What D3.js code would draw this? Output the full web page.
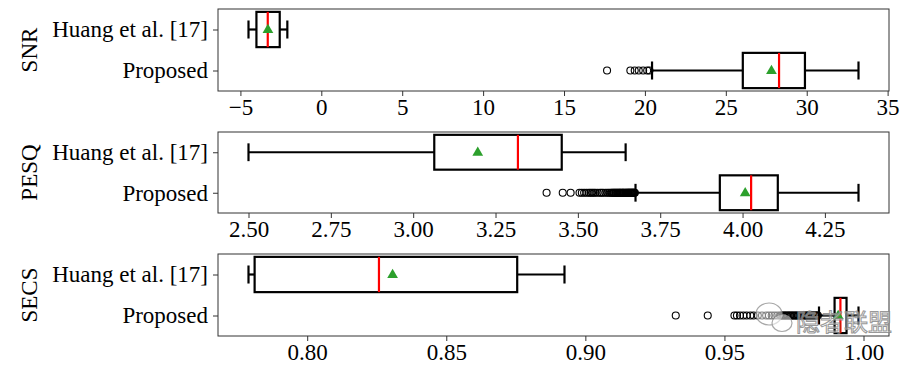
<!DOCTYPE html>
<html>
<head>
<meta charset="utf-8">
<script src="https://cdn.jsdelivr.net/npm/d3@7"></script>
<style>
  body { margin: 0; background: #fff; }
  text { font-family: "Liberation Serif", "Times New Roman", serif; }
</style>
</head>
<body>
<div id="chart"></div>
<script>
// categories, top to bottom
var categories = ["Huang et al. [17]", "Proposed"];

// box stats per category: [lower whisker, q1, median, q3, upper whisker]
var snrBoxes = [[-4.50, -4.01, -3.31, -2.57, -2.10], [20.44, 26.05, 28.29, 29.89, 33.20]];
var snrMeans = [-3.30, 27.82];
var snrFliers = [[], [17.66, 19.10, 19.37, 19.62, 19.89, 20.14, 20.28]];
var snrTicks = [-5, 0, 5, 10, 15, 20, 25, 30, 35];

var pesqBoxes = [[2.50, 3.064, 3.318, 3.451, 3.645], [3.675, 3.931, 4.026, 4.107, 4.352]];
var pesqMeans = [3.196, 4.008];
var pesqFliers = [[], [3.405, 3.454, 3.478, 3.505, 3.512, 3.519, 3.526, 3.533, 3.538, 3.543, 3.548,
  3.553, 3.560, 3.567, 3.572, 3.577, 3.584, 3.590, 3.595, 3.600, 3.603, 3.606, 3.609, 3.611,
  3.614, 3.616, 3.619, 3.621, 3.624, 3.626, 3.628, 3.630, 3.633, 3.635, 3.637, 3.639, 3.641,
  3.644, 3.646, 3.648, 3.650, 3.652, 3.654, 3.655, 3.657, 3.659, 3.660, 3.662, 3.664, 3.665,
  3.667, 3.668, 3.670, 3.671, 3.673]];
var pesqTicks = [2.50, 2.75, 3.00, 3.25, 3.50, 3.75, 4.00, 4.25];

var secsBoxes = [[0.7789, 0.7811, 0.8258, 0.8755, 0.8925], [0.9840, 0.9896, 0.9917, 0.9939, 0.9982]];
var secsMeans = [0.8307, 0.9909];
var secsFliers = [[], [0.9325, 0.9440, 0.9536, 0.9545, 0.9556, 0.9568, 0.9580, 0.9593, 0.9605,
  0.9620, 0.9635, 0.9650, 0.9660, 0.9670, 0.9680, 0.9690, 0.9700, 0.9705, 0.9710, 0.9715,
  0.9720, 0.9725, 0.9730, 0.9735, 0.9740, 0.9745, 0.9750, 0.9755, 0.9760, 0.9765, 0.9770,
  0.9775, 0.9780, 0.9785, 0.9790, 0.9795, 0.9800, 0.9805, 0.9810, 0.9815, 0.9820, 0.9825,
  0.9830, 0.9833, 0.9836]];
var secsTicks = [0.80, 0.85, 0.90, 0.95, 1.00];

var metricLabels = ["SNR", "PESQ", "SECS"];

var panels = [
  {label: metricLabels[0], boxes: snrBoxes, means: snrMeans, fliers: snrFliers, ticks: snrTicks, fmt: d3.format("d"), top: 9, bottom: 91},
  {label: metricLabels[1], boxes: pesqBoxes, means: pesqMeans, fliers: pesqFliers, ticks: pesqTicks, fmt: d3.format(".2f"), top: 132, bottom: 213},
  {label: metricLabels[2], boxes: secsBoxes, means: secsMeans, fliers: secsFliers, ticks: secsTicks, fmt: d3.format(".2f"), top: 254, bottom: 336}
];

var width = 920, height = 370;
var left = 218, right = 889;

var svg = d3.select("#chart")
  .append("svg")
  .attr("width", width)
  .attr("height", height);

panels.forEach(function(p) {
  // domain with 5% margins like matplotlib
  var all = [];
  p.boxes.forEach(function(b) { all.push(b[0], b[4]); });
  p.fliers.forEach(function(f) { all = all.concat(f); });
  var lo = d3.min(all), hi = d3.max(all), pad = (hi - lo) * 0.05;

  var x = d3.scaleLinear().domain([lo - pad, hi + pad]).range([left, right]);
  var y = d3.scalePoint().domain(categories).range([p.top, p.bottom]).padding(0.5);
  var step = y.step();
  var boxH = step * 0.86, capH = step * 0.44;

  var g = svg.append("g");

  // frame
  g.append("rect")
    .attr("x", left).attr("y", p.top)
    .attr("width", right - left).attr("height", p.bottom - p.top)
    .attr("fill", "none").attr("stroke", "#333").attr("stroke-width", 1);

  // axes
  var xa = g.append("g")
    .attr("transform", "translate(0," + p.bottom + ")")
    .call(d3.axisBottom(x).tickValues(p.ticks).tickFormat(p.fmt).tickSize(5).tickPadding(3));
  var ya = g.append("g")
    .attr("transform", "translate(" + left + ",0)")
    .call(d3.axisLeft(y).tickSize(5).tickPadding(5));
  [xa, ya].forEach(function(a) {
    a.attr("font-family", null);
    a.select(".domain").remove();
    a.selectAll("line").attr("stroke", "#333");
    a.selectAll("text").attr("fill", "#000").style("font-size", "23px")
      .style("font-family", "'Liberation Serif', 'Times New Roman', serif");
  });

  // y label
  g.append("text")
    .attr("transform", "translate(37," + ((p.top + p.bottom) / 2) + ") rotate(-90)")
    .attr("text-anchor", "middle")
    .style("font-size", "23px")
    .text(p.label);

  categories.forEach(function(c, i) {
    var b = p.boxes[i], cy = y(c);
    // whiskers
    g.append("line").attr("x1", x(b[0])).attr("x2", x(b[1])).attr("y1", cy).attr("y2", cy)
      .attr("stroke", "#000").attr("stroke-width", 2.2);
    g.append("line").attr("x1", x(b[3])).attr("x2", x(b[4])).attr("y1", cy).attr("y2", cy)
      .attr("stroke", "#000").attr("stroke-width", 2.2);
    // caps
    [b[0], b[4]].forEach(function(v) {
      g.append("line").attr("x1", x(v)).attr("x2", x(v))
        .attr("y1", cy - capH / 2).attr("y2", cy + capH / 2)
        .attr("stroke", "#000").attr("stroke-width", 2.2);
    });
    // box
    g.append("rect")
      .attr("x", x(b[1])).attr("y", cy - boxH / 2)
      .attr("width", x(b[3]) - x(b[1])).attr("height", boxH)
      .attr("fill", "none").attr("stroke", "#000").attr("stroke-width", 2.2);
    // fliers
    g.selectAll(null).data(p.fliers[i]).enter()
      .append("circle")
      .attr("cx", function(d) { return x(d); })
      .attr("cy", cy)
      .attr("r", 3.5)
      .attr("fill", "none").attr("stroke", "#000").attr("stroke-width", 1.1);
    // median
    g.append("line").attr("x1", x(b[2])).attr("x2", x(b[2]))
      .attr("y1", cy - boxH / 2).attr("y2", cy + boxH / 2)
      .attr("stroke", "#ff0000").attr("stroke-width", 2.2);
    // mean
    g.append("path")
      .attr("d", d3.symbol().type(d3.symbolTriangle).size(50))
      .attr("transform", "translate(" + x(p.means[i]) + "," + (cy + 0.5) + ")")
      .attr("fill", "#2ca02c");
  });
});

// watermark
var wm = svg.append("g").attr("opacity", 0.85);
wm.append("ellipse").attr("cx", 769).attr("cy", 314).attr("rx", 13).attr("ry", 11)
  .attr("fill", "#fff").attr("fill-opacity", 0.6).attr("stroke", "#999").attr("stroke-width", 1.2);
wm.append("ellipse").attr("cx", 782).attr("cy", 323).attr("rx", 10).attr("ry", 8.5)
  .attr("fill", "#fff").attr("fill-opacity", 0.6).attr("stroke", "#999").attr("stroke-width", 1.2);
wm.append("text")
  .attr("x", 796).attr("y", 331)
  .style("font-family", "'Noto Sans CJK SC', sans-serif")
  .style("font-size", "24px")
  .attr("fill", "#fff").attr("fill-opacity", 0.6)
  .attr("stroke", "#888").attr("stroke-width", 1)
  .text("隐者联盟");
</script>
</body>
</html>
